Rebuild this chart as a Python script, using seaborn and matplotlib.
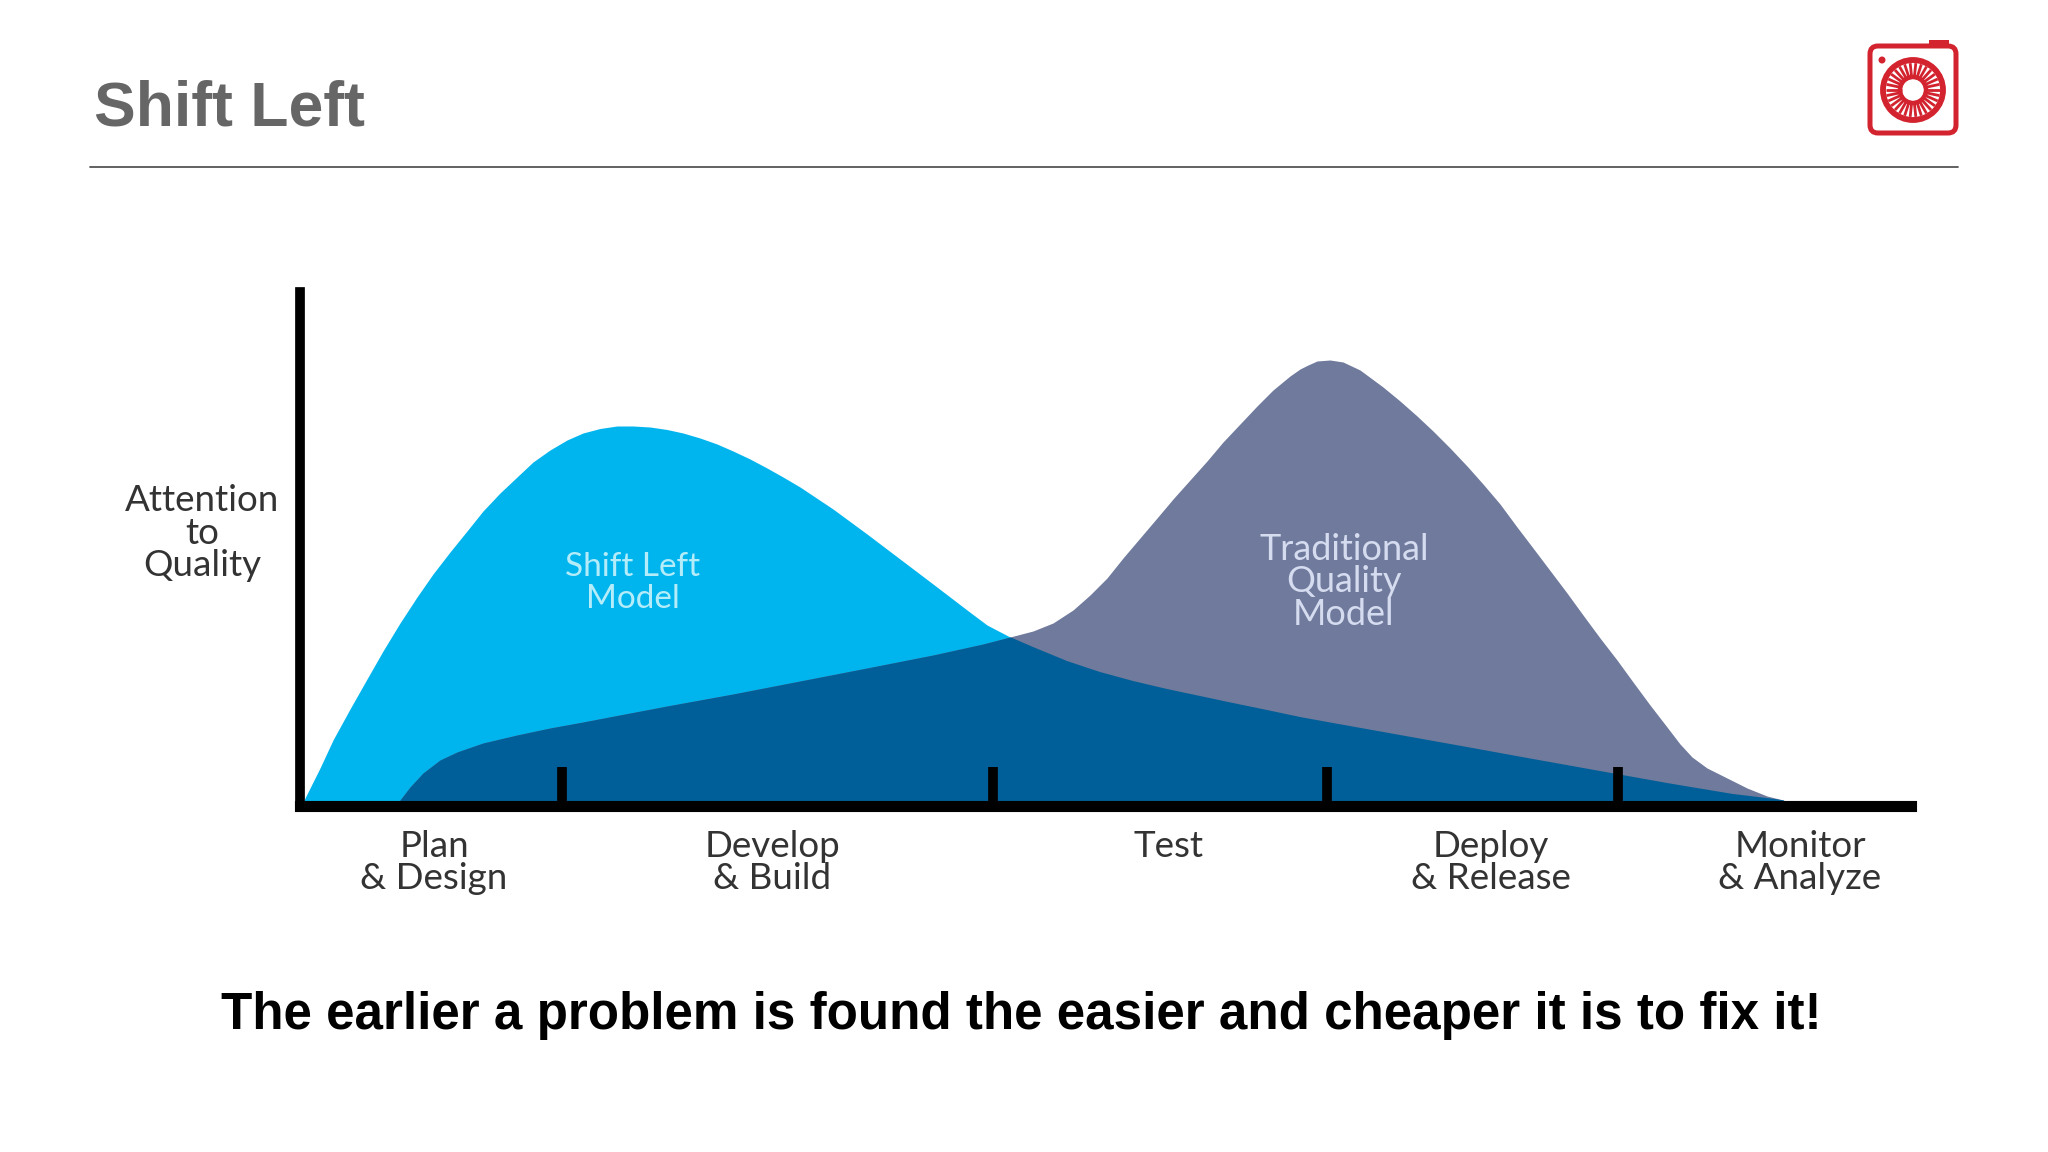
import numpy as np
import matplotlib
matplotlib.use('Agg')
import matplotlib.pyplot as plt
from matplotlib.patches import Circle, FancyBboxPatch, Rectangle
from matplotlib.path import Path
import seaborn as sns

# curves (position along the pipeline, attention level)
shift_x = [2, 5, 20, 33, 50, 67, 83, 100, 117, 133, 150, 167, 183, 200, 217, 233, 250, 267, 283, 300, 317,
           333, 350, 367, 383, 400, 417, 433, 450, 467, 483, 500, 533, 567, 600, 633, 667, 687, 710, 733,
           767, 800, 833, 867, 900, 933, 967, 1000, 1033, 1100, 1167, 1233, 1300, 1367, 1433, 1483, 1495]
shift_y = [0, 8, 38, 66, 97, 127, 155, 183, 209, 232, 254, 275, 295, 313, 329, 344, 356, 366, 373, 377.5, 380,
           380, 379, 376.5, 373, 368, 362, 355, 347, 338, 329, 319, 297, 272, 247, 222, 196, 181, 169, 159,
           145, 134, 125, 117, 110, 103, 96, 89, 83, 71, 59, 47, 35, 23, 12, 6, 0]
trad_x = [98, 100, 110, 123, 140, 157, 183, 217, 250, 283, 317, 367, 433, 500, 567, 633, 683, 710, 733, 753,
          773, 790, 807, 823, 840, 857, 873, 890, 907, 923, 940, 957, 973, 990, 1000, 1008, 1017, 1030, 1043, 1060,
          1083, 1100, 1117, 1133, 1150, 1167, 1183, 1200, 1217, 1233, 1250, 1267, 1283, 1300, 1317, 1333,
          1350, 1367, 1380, 1392, 1407, 1427, 1447, 1467, 1483, 1495]
trad_y = [0, 6, 19, 33, 46, 54, 63, 71, 78, 84, 90.5, 100, 112, 125, 138, 151, 162, 169, 175, 183,
          196, 211, 228, 248, 268, 288, 307, 326, 345, 364, 382, 400, 416, 430, 437, 441, 445, 446, 444, 436,
          419, 405, 390, 375, 358, 340, 322, 302, 279, 258, 235.5, 213, 191, 168, 146, 124,
          101, 79, 62, 49, 38, 28, 18, 10, 6, 0]

stage_bounds = [262, 693, 1027, 1318]
stage_centres = [134, 472, 869, 1191, 1500]
stage_labels = ['Plan\n& Design', 'Develop\n& Build', 'Test', 'Deploy\n& Release', 'Monitor\n& Analyze']

W, H = 2048, 1152
CYAN = '#00b5ee'
SLATE = '#6f7a9c'
OVERLAP = '#005f98'
RED = '#d2232f'
LABEL = '#333333'

sns.set_theme(style='white')
plt.rcParams['font.family'] = ['Lato', 'DejaVu Sans']

fig = plt.figure(figsize=(W / 100, H / 100), dpi=100, facecolor='white')


def px_axes(x0, y_top, w, h):
    return fig.add_axes([x0 / W, 1 - (y_top + h) / H, w / W, h / H])


ax = px_axes(300, 292, 1611, 514)
ax.set_xlim(0, 1611)
ax.set_ylim(0, 514)
ax.patch.set_alpha(0)
ax.set_axisbelow(False)

ax.fill_between(shift_x, 0, shift_y, color=CYAN, lw=0)
ax.fill_between(trad_x, 0, trad_y, color=SLATE, lw=0)

# the overlap is the traditional shape clipped to the shift left one
overlap = ax.fill_between(trad_x, 0, trad_y, color=OVERLAP, lw=0)
shift_path = Path(np.column_stack([shift_x, shift_y]))
overlap.set_clip_path(shift_path, ax.transData)

sns.despine(ax=ax)
ax.spines['left'].set_linewidth(7)
ax.spines['bottom'].set_linewidth(8)
ax.spines['left'].set_color('black')
ax.spines['bottom'].set_color('black')

ax.set_yticks([])
ax.set_xticks(stage_bounds, [''] * len(stage_bounds))
ax.tick_params(axis='x', which='major', direction='in', length=28, width=7, color='black', bottom=True)
ax.set_xticks(stage_centres, stage_labels, minor=True)
ax.tick_params(axis='x', which='minor', length=0, pad=17, labelsize=26.5, labelcolor=LABEL)
for lab in ax.get_xticklabels(minor=True):
    lab.set_linespacing(0.97)

ax.set_ylabel('Attention\nto\nQuality', rotation=0, fontsize=26.5, color=LABEL, linespacing=0.97,
              ha='center', va='center', labelpad=0)
ax.yaxis.set_label_coords(-0.0606, 0.531)

ax.text(333, 223, 'Shift Left\nModel', color='#b4ecfa', fontsize=24, ha='center', va='center', linespacing=1.06)
ax.text(1044, 224, 'Traditional\nQuality\nModel', color='#d5dcf0', fontsize=26, ha='center', va='center',
        linespacing=0.98)

# slide furniture
fig.text(94 / W, 1 - 109 / H, 'Shift Left', family='Liberation Sans', fontweight='bold', fontsize=45,
         color='#666666', ha='left', va='center')
fig.add_artist(plt.Line2D([90 / W, 1958 / W], [1 - 167 / H] * 2, color='#555555', lw=1.3))
fig.text(1021 / W, 1 - 1016 / H, 'The earlier a problem is found the easier and cheaper it is to fix it!',
         family='Liberation Sans', fontweight='bold', fontsize=36.8, color='black', ha='center', va='center')

# camera logo, top right, limits are image pixels
logo = px_axes(1860, 36, 105, 105)
logo.set_xlim(1860, 1965)
logo.set_ylim(141, 36)
logo.axis('off')
logo.add_patch(FancyBboxPatch((1870, 46), 86, 87, boxstyle='round,pad=0,rounding_size=8', fc='white', ec=RED, lw=3.6))
logo.add_patch(Rectangle((1929, 40), 20, 7, fc=RED, ec=RED, lw=0))
logo.add_patch(Circle((1882, 60), 3.5, fc=RED, ec='none'))
logo.add_patch(Circle((1913, 90), 30, fc='white', ec=RED, lw=4.2))
for deg in range(0, 360, 12):
    a = np.deg2rad(deg)
    logo.plot([1913 + 11 * np.cos(a), 1913 + 27 * np.cos(a)],
              [90 + 11 * np.sin(a), 90 + 27 * np.sin(a)], color=RED, lw=2, solid_capstyle='butt')
logo.add_patch(Circle((1913, 90), 13, fc='white', ec=RED, lw=3.2))

fig.savefig('out.png', dpi=100, facecolor='white')
